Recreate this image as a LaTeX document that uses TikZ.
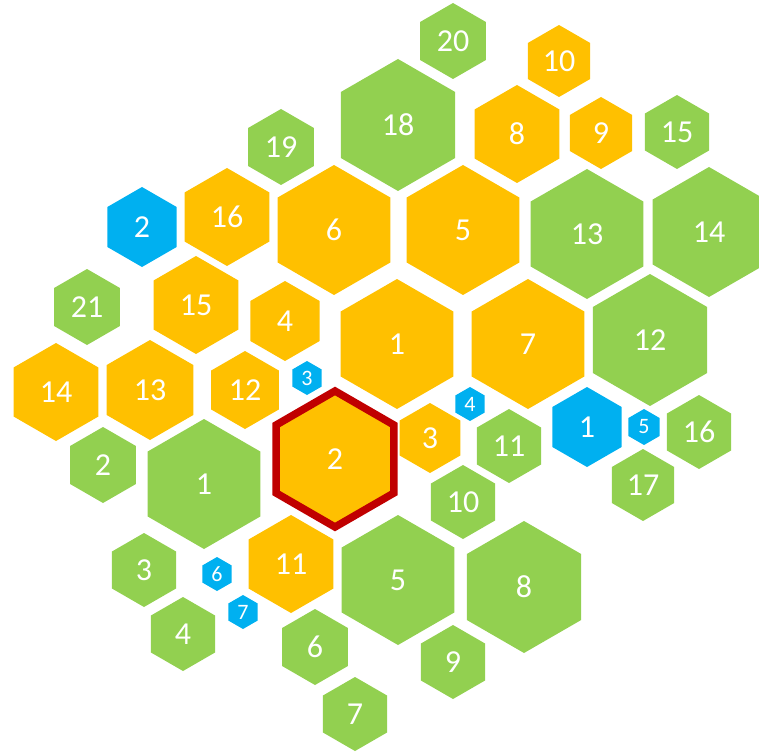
\documentclass[tikz,border=0pt]{standalone}
\usepackage{fontspec}
\setmainfont{Carlito}
\usetikzlibrary{shapes.geometric}
\definecolor{hgreen}{HTML}{92D050}
\definecolor{horange}{HTML}{FFC000}
\definecolor{hblue}{HTML}{00B0F0}
\definecolor{hred}{HTML}{C00000}
\tikzset{
  hexbase/.style={regular polygon, regular polygon sides=6, shape border rotate=30,
    inner sep=0pt, outer sep=0pt, text=white, font=\fontsize{32}{38}\selectfont},
  hg/.style={hexbase, fill=hgreen, minimum size=#1},
  ho/.style={hexbase, fill=horange, minimum size=#1},
  hb/.style={hexbase, fill=hblue, minimum size=#1},
  hsmall/.style={font=\fontsize{22}{26}\selectfont},
  hsel/.style={draw=hred, line width=7.5pt, line join=miter}
}
\begin{document}
\begin{tikzpicture}[x=1pt,y=-1pt]
\useasboundingbox (0,0) rectangle (759,751);
% green
\node[hg=76]  (g20) at (453,41)  {20};
\node[hg=132] (g18) at (398,125) {18};
\node[hg=76]  (g19) at (281,147) {19};
\node[hg=74]  (g15) at (677,132) {15};
\node[hg=130] (g13) at (587,234) {13};
\node[hg=130] (g14) at (709,232) {14};
\node[hg=76]  (g21) at (87,307)  {21};
\node[hg=132] (g12) at (650,340) {12};
\node[hg=76]  (g2)  at (103,465) {2};
\node[hg=130] (g1)  at (204,484) {1};
\node[hg=74]  (g11) at (509,446) {11};
\node[hg=74]  (g16) at (699,432) {16};
\node[hg=72]  (g17) at (643,485) {17};
\node[hg=74]  (g10) at (463,502) {10};
\node[hg=74]  (g3)  at (144,570) {3};
\node[hg=74]  (g4)  at (183,634) {4};
\node[hg=130] (g5)  at (398,580) {5};
\node[hg=132] (g8)  at (524,587) {8};
\node[hg=76]  (g6)  at (315,647) {6};
\node[hg=74]  (g9)  at (453,662) {9};
\node[hg=74]  (g7)  at (355,714) {7};
% orange
\node[ho=72]  (o10) at (559,61)  {10};
\node[ho=98]  (o8)  at (517,134) {8};
\node[ho=72]  (o9)  at (601,133) {9};
\node[ho=98]  (o16) at (227,217) {16};
\node[ho=130] (o6)  at (334,230) {6};
\node[ho=130] (o5)  at (463,230) {5};
\node[ho=98]  (o15) at (196,305) {15};
\node[ho=80]  (o4)  at (285,321) {4};
\node[ho=130] (o1)  at (397,344) {1};
\node[ho=130] (o7)  at (528,344) {7};
\node[ho=98]  (o14) at (56,392)  {14};
\node[ho=100] (o13) at (150,390) {13};
\node[ho=78]  (o12) at (245,390) {12};
\node[ho=70]  (o3)  at (430,438) {3};
\node[ho=98]  (o11) at (291,564) {11};
\node[ho=136,hsel] (o2) at (335,459) {2};
% blue
\node[hb=80] (b2) at (142,227) {2};
\node[hb=80] (b1) at (587,427) {1};
\node[hb=34,hsmall] (b3) at (307,378) {3};
\node[hb=34,hsmall] (b4) at (470,404) {4};
\node[hb=36,hsmall] (b5) at (644,427) {5};
\node[hb=34,hsmall] (b6) at (217,574) {6};
\node[hb=34,hsmall] (b7) at (243,612) {7};
\end{tikzpicture}
\end{document}
